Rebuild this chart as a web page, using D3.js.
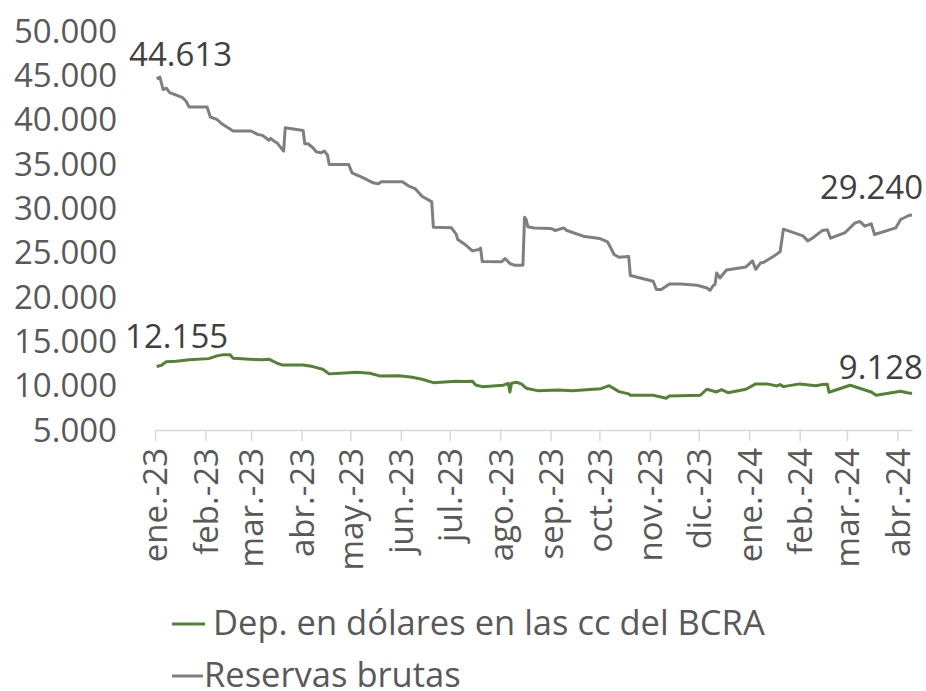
<!DOCTYPE html>
<html>
<head>
<meta charset="utf-8">
<script src="https://cdn.jsdelivr.net/npm/d3@7"></script>
<style>
  body { margin: 0; background: #fff; }
  text { font-family: "Open Sans", sans-serif; }
</style>
</head>
<body>
<div id="chart"></div>
<script>
//////////////////////////////////////////////////////////////////////////////
// Data (millones de USD)

var resDates = [
    "2023-01-02","2023-01-04","2023-01-06","2023-01-08","2023-01-10","2023-01-14","2023-01-18","2023-01-20",
    "2023-01-22","2023-02-02","2023-02-04","2023-02-08","2023-02-11","2023-02-18","2023-03-01","2023-03-05",
    "2023-03-08","2023-03-10","2023-03-12","2023-03-13","2023-03-15","2023-03-17","2023-03-21","2023-03-22",
    "2023-04-02","2023-04-03","2023-04-05","2023-04-08","2023-04-10","2023-04-13","2023-04-15","2023-04-17",
    "2023-04-18","2023-04-30","2023-05-02","2023-05-09","2023-05-15","2023-05-18","2023-05-20","2023-06-02",
    "2023-06-06","2023-06-10","2023-06-14","2023-06-20","2023-06-21","2023-07-02","2023-07-05","2023-07-06",
    "2023-07-10","2023-07-15","2023-07-19","2023-07-20","2023-07-21","2023-08-02","2023-08-04","2023-08-07",
    "2023-08-10","2023-08-15","2023-08-16","2023-08-17","2023-08-18","2023-08-22","2023-09-01","2023-09-04",
    "2023-09-09","2023-09-11","2023-09-21","2023-10-01","2023-10-06","2023-10-08","2023-10-10","2023-10-13",
    "2023-10-19","2023-10-20","2023-11-03","2023-11-05","2023-11-08","2023-11-13","2023-11-20","2023-11-30",
    "2023-12-06","2023-12-08","2023-12-10","2023-12-11","2023-12-12","2023-12-14","2023-12-18","2023-12-30",
    "2024-01-03","2024-01-05","2024-01-08","2024-01-10","2024-01-16","2024-01-20","2024-01-22","2024-02-03",
    "2024-02-06","2024-02-09","2024-02-15","2024-02-18","2024-02-20","2024-02-29","2024-03-06","2024-03-09",
    "2024-03-12","2024-03-16","2024-03-18","2024-03-31","2024-04-03","2024-04-08","2024-04-10"
];
var resValues = [
    44613, 44800, 43400, 43550, 43050, 42780, 42480, 42100,
    41430, 41430, 40300, 40040, 39540, 38720, 38720, 38340,
    38230, 37960, 37670, 37890, 37590, 37390, 36460, 39090,
    38790, 37280, 37280, 36830, 36380, 36260, 36460, 36000,
    34950, 34950, 34010, 33440, 32880, 32760, 32990, 32990,
    32500, 32190, 31370, 30730, 27870, 27820, 27080, 26480,
    25990, 25200, 25350, 25530, 24000, 23980, 24340, 23770,
    23580, 23580, 29000, 28720, 27930, 27790, 27730, 27500,
    27790, 27500, 26860, 26600, 26210, 25530, 24790, 24480,
    24560, 22420, 21770, 20840, 20840, 21470, 21470, 21320,
    21020, 20760, 21320, 21400, 22710, 22150, 23050, 23390,
    24070, 23130, 23840, 23920, 24600, 25110, 27650, 26890,
    26330, 26660, 27510, 27590, 26630, 27270, 28360, 28520,
    27990, 28250, 27050, 27790, 28740, 29190, 29240
];

var depDates = [
    "2023-01-02","2023-01-05","2023-01-08","2023-01-14","2023-01-22","2023-02-03","2023-02-08","2023-02-12",
    "2023-02-16","2023-02-18","2023-02-28","2023-03-08","2023-03-12","2023-03-17","2023-03-20","2023-04-02",
    "2023-04-08","2023-04-14","2023-04-18","2023-04-30","2023-05-05","2023-05-13","2023-05-19","2023-05-31",
    "2023-06-08","2023-06-14","2023-06-21","2023-07-05","2023-07-09","2023-07-15","2023-07-17","2023-07-21",
    "2023-08-03","2023-08-06","2023-08-07","2023-08-08","2023-08-11","2023-08-14","2023-08-17","2023-08-24",
    "2023-09-06","2023-09-14","2023-10-02","2023-10-07","2023-10-13","2023-10-19","2023-10-20","2023-11-03",
    "2023-11-11","2023-11-13","2023-12-02","2023-12-06","2023-12-12","2023-12-15","2023-12-19","2023-12-30",
    "2024-01-05","2024-01-12","2024-01-18","2024-01-20","2024-01-22","2024-02-01","2024-02-11","2024-02-15",
    "2024-02-18","2024-02-19","2024-03-03","2024-03-16","2024-03-19","2024-04-03","2024-04-07","2024-04-10"
];
var depValues = [
    12155, 12310, 12710, 12760, 12910, 13050, 13360, 13500,
    13500, 13100, 12990, 12910, 12990, 12530, 12340, 12340,
    12150, 11860, 11330, 11470, 11520, 11400, 11100, 11130,
    10950, 10730, 10340, 10500, 10460, 10500, 10080, 9890,
    10050, 10270, 9290, 10270, 10390, 10200, 9710, 9440,
    9520, 9440, 9660, 10000, 9330, 9070, 8920, 8920,
    8580, 8840, 8920, 9600, 9290, 9550, 9210, 9600,
    10200, 10200, 9970, 10120, 9890, 10200, 10000, 10120,
    10160, 9260, 10050, 9290, 8920, 9370, 9210, 9128
];

var yTicks = [5000, 10000, 15000, 20000, 25000, 30000, 35000, 40000, 45000, 50000];
var xTickDates = [
    "2023-01-01","2023-02-01","2023-03-01","2023-04-01","2023-05-01","2023-06-01","2023-07-01","2023-08-01",
    "2023-09-01","2023-10-01","2023-11-01","2023-12-01","2024-01-01","2024-02-01","2024-03-01","2024-04-01"
];
var xTickLabels = [
    "ene.-23","feb.-23","mar.-23","abr.-23","may.-23","jun.-23","jul.-23","ago.-23",
    "sep.-23","oct.-23","nov.-23","dic.-23","ene.-24","feb.-24","mar.-24","abr.-24"
];

var seriesNames = ["Dep. en dólares en las cc del BCRA", "Reservas brutas"];
var seriesColors = ["#548235", "#7f7f7f"];

//////////////////////////////////////////////////////////////////////////////
// Scales and helpers

var width = 926, height = 691;
var parse = d3.timeParse("%Y-%m-%d");
var esFormat = d3.formatLocale({decimal: ",", thousands: ".", grouping: [3], currency: ["$", ""]}).format(",");

var xScale = d3.scaleTime()
    .domain([parse("2023-01-01"), parse("2024-04-10")])
    .range([155, 912]);
var yScale = d3.scaleLinear().domain([5000, 50000]).range([430, 31]);

function toPoints(dates, values)
{
    return dates.map(function(d, i) { return {date: parse(d), value: values[i]}; });
}

var res = toPoints(resDates, resValues);
var dep = toPoints(depDates, depValues);

var svg = d3.select("#chart")
    .append("svg")
    .attr("width", width)
    .attr("height", height);

//////////////////////////////////////////////////////////////////////////////
// Axes

var yAxis = d3.axisLeft(yScale)
    .tickValues(yTicks)
    .tickSize(0)
    .tickPadding(0)
    .tickFormat(esFormat);

svg.append("g")
    .attr("transform", "translate(117,0)")
    .call(yAxis)
    .call(function(g) { g.select(".domain").remove(); })
    .selectAll("text")
    .attr("font-family", "Open Sans")
    .attr("font-size", 33)
    .attr("fill", "#595959")
    .attr("dy", "0.34em");

var xAxis = d3.axisBottom(xScale)
    .tickValues(xTickDates.map(parse))
    .tickSize(11)
    .tickSizeOuter(0)
    .tickFormat(function(d, i) { return xTickLabels[i]; });

var gx = svg.append("g")
    .attr("transform", "translate(0," + yScale(5000) + ")")
    .call(xAxis);

gx.select(".domain").attr("stroke", "#d9d9d9").attr("stroke-width", 1.5);
gx.selectAll(".tick line").attr("stroke", "#d9d9d9").attr("stroke-width", 1.5);
gx.selectAll(".tick text")
    .attr("font-family", "Open Sans")
    .attr("font-size", 33)
    .attr("fill", "#595959")
    .attr("text-anchor", "end")
    .attr("transform", "rotate(-90)")
    .attr("x", -18)
    .attr("y", 0)
    .attr("dy", "0.36em");

//////////////////////////////////////////////////////////////////////////////
// Lines

var line = d3.line()
    .x(function(d) { return xScale(d.date); })
    .y(function(d) { return yScale(d.value); });

svg.append("path")
    .datum(res)
    .attr("fill", "none")
    .attr("stroke", seriesColors[1])
    .attr("stroke-width", 3)
    .attr("stroke-linejoin", "round")
    .attr("d", line);

svg.append("path")
    .datum(dep)
    .attr("fill", "none")
    .attr("stroke", seriesColors[0])
    .attr("stroke-width", 3)
    .attr("stroke-linejoin", "round")
    .attr("d", line);

//////////////////////////////////////////////////////////////////////////////
// First / last value labels

function valueLabel(p, anchor, dx, dy)
{
    svg.append("text")
        .attr("x", xScale(p.date) + dx)
        .attr("y", yScale(p.value) + dy)
        .attr("text-anchor", anchor)
        .attr("font-size", 33)
        .attr("fill", "#404040")
        .text(esFormat(p.value));
}

valueLabel(res[0], "middle", 24, -13);
valueLabel(res[res.length - 1], "end", 11, -16);
valueLabel(dep[0], "middle", 20, -19);
valueLabel(dep[dep.length - 1], "end", 11, -14);

//////////////////////////////////////////////////////////////////////////////
// Legend

var legend = svg.append("g");
var legendRows = [{y: 624, x1: 172, x2: 205, tx: 213}, {y: 676, x1: 172, x2: 203, tx: 204}];

legendRows.forEach(function(r, i) {
    legend.append("line")
        .attr("x1", r.x1).attr("x2", r.x2)
        .attr("y1", r.y).attr("y2", r.y)
        .attr("stroke", seriesColors[i])
        .attr("stroke-width", 3);
    legend.append("text")
        .attr("x", r.tx)
        .attr("y", r.y + 11)
        .attr("font-size", 34.5)
        .attr("fill", "#595959")
        .text(seriesNames[i]);
});
</script>
</body>
</html>
